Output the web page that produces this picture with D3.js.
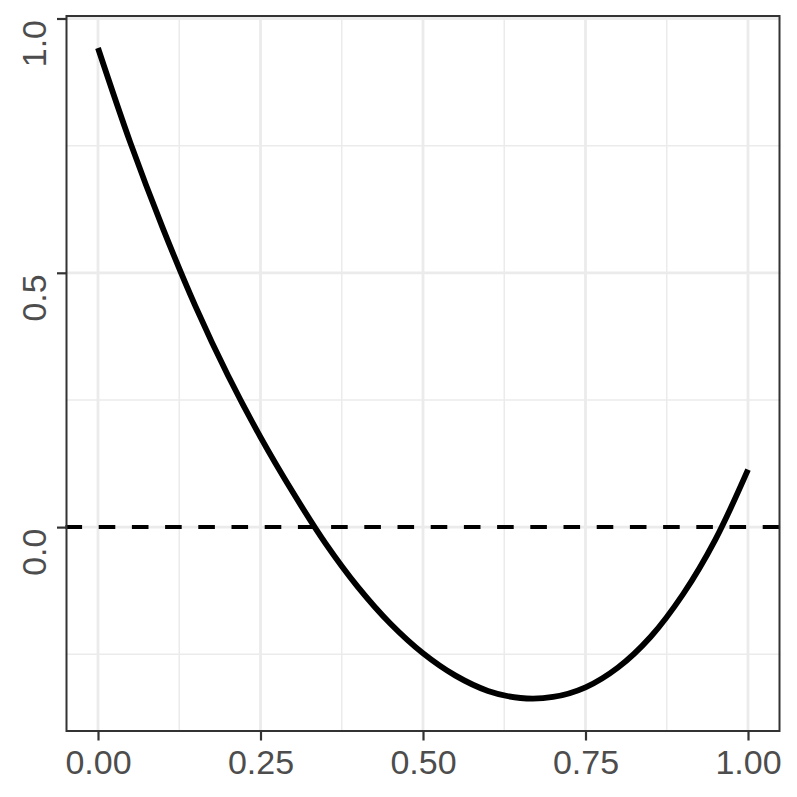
<!DOCTYPE html>
<html>
<head>
<meta charset="utf-8">
<script src="https://cdn.jsdelivr.net/npm/d3@7"></script>
<style>
  html, body { margin: 0; padding: 0; background: #ffffff; }
  svg { display: block; }
  text { font-family: "Liberation Sans", Arial, Helvetica, sans-serif; }
</style>
</head>
<body>
<svg id="chart" width="797" height="797"></svg>
<script>
// Values read (estimated) from the reference picture
const xValues = [0, 0.05, 0.10, 0.15, 0.20, 0.25, 0.30, 0.35, 0.40, 0.45, 0.50,
                 0.55, 0.60, 0.65, 0.70, 0.75, 0.80, 0.85, 0.90, 0.95, 1.00];
const yValues = [0.942, 0.755, 0.587, 0.434, 0.298, 0.177, 0.068, -0.032, -0.118, -0.190, -0.248,
                 -0.292, -0.322, -0.336, -0.334, -0.315, -0.276, -0.216, -0.132, -0.024, 0.113];
const refLine = 0;
const xTicks = [0, 0.25, 0.5, 0.75, 1];
const xTickLabels = ["0.00", "0.25", "0.50", "0.75", "1.00"];
const xMinor = [0.125, 0.375, 0.625, 0.875];
const yTicks = [0, 0.5, 1];
const yTickLabels = ["0.0", "0.5", "1.0"];
const yMinor = [-0.25, 0.25, 0.75];

const points = xValues.map((x, i) => ({ x: x, y: yValues[i] }));

const panel = { left: 65.5, right: 780.5, top: 15.5, bottom: 730.5 };

const xExt = d3.extent(xValues);
const xPad = (xExt[1] - xExt[0]) * 0.05;
const yExt = d3.extent(yValues);
const yPad = (yExt[1] - yExt[0]) * 0.05;

const x = d3.scaleLinear().domain([xExt[0] - xPad, xExt[1] + xPad]).range([panel.left, panel.right]);
const y = d3.scaleLinear().domain([yExt[0] - yPad, yExt[1] + yPad]).range([panel.bottom, panel.top]);

const svg = d3.select("#chart");
svg.append("rect").attr("width", 797).attr("height", 797).attr("fill", "#ffffff");

const grid = svg.append("g");
// minor grid
grid.selectAll("line.xminor").data(xMinor).join("line")
  .attr("x1", d => x(d)).attr("x2", d => x(d))
  .attr("y1", panel.top).attr("y2", panel.bottom)
  .attr("stroke", "#EBEBEB").attr("stroke-width", 1.5);
grid.selectAll("line.yminor").data(yMinor).join("line")
  .attr("y1", d => y(d)).attr("y2", d => y(d))
  .attr("x1", panel.left).attr("x2", panel.right)
  .attr("stroke", "#EBEBEB").attr("stroke-width", 1.5);
// major grid
grid.selectAll("line.xmajor").data(xTicks).join("line")
  .attr("x1", d => x(d)).attr("x2", d => x(d))
  .attr("y1", panel.top).attr("y2", panel.bottom)
  .attr("stroke", "#EBEBEB").attr("stroke-width", 2.8);
grid.selectAll("line.ymajor").data(yTicks).join("line")
  .attr("y1", d => y(d)).attr("y2", d => y(d))
  .attr("x1", panel.left).attr("x2", panel.right)
  .attr("stroke", "#EBEBEB").attr("stroke-width", 2.8);

// dashed reference line
svg.append("line")
  .attr("x1", panel.left).attr("x2", panel.right)
  .attr("y1", y(refLine)).attr("y2", y(refLine))
  .attr("stroke", "#000000").attr("stroke-width", 4)
  .attr("stroke-dasharray", "16.6 16.6");

// curve
const line = d3.line().x(d => x(d.x)).y(d => y(d.y)).curve(d3.curveCatmullRom.alpha(0.5));
svg.append("path").datum(points)
  .attr("d", line)
  .attr("fill", "none")
  .attr("stroke", "#000000")
  .attr("stroke-width", 5.8)
  .attr("stroke-linecap", "butt")
  .attr("stroke-linejoin", "round");

// panel border
svg.append("rect")
  .attr("x", panel.left + 1).attr("y", panel.top + 0.5)
  .attr("width", panel.right - panel.left - 2).attr("height", panel.bottom - panel.top)
  .attr("fill", "none").attr("stroke", "#333333").attr("stroke-width", 2);

// x axis
const xAxis = d3.axisBottom(x).tickValues(xTicks).tickFormat((d, i) => xTickLabels[i]).tickSize(10).tickPadding(8);
const gx = svg.append("g").attr("transform", `translate(0,${panel.bottom})`).call(xAxis);
gx.select(".domain").remove();
gx.selectAll(".tick line").attr("stroke", "#333333").attr("stroke-width", 2.2);
gx.selectAll(".tick text").attr("fill", "#4D4D4D").attr("font-size", 34)
  .attr("font-family", "Liberation Sans, Arial, sans-serif")
  .attr("dy", null).attr("y", 0)
  .attr("transform", "translate(0,43)");

// y axis
const yAxis = d3.axisLeft(y).tickValues(yTicks).tickFormat((d, i) => yTickLabels[i]).tickSize(9.5);
const gy = svg.append("g").attr("transform", `translate(${panel.left + 1},0)`).call(yAxis);
gy.select(".domain").remove();
gy.selectAll(".tick line").attr("stroke", "#333333").attr("stroke-width", 2.2);
gy.selectAll(".tick text").remove();
gy.selectAll(".tick").append("text")
  .attr("fill", "#4D4D4D").attr("font-size", 34)
  .attr("font-family", "Liberation Sans, Arial, sans-serif")
  .attr("text-anchor", "end")
  .attr("transform", "translate(-21,1) rotate(-90)")
  .text((d, i) => yTickLabels[i]);
</script>
</body>
</html>
